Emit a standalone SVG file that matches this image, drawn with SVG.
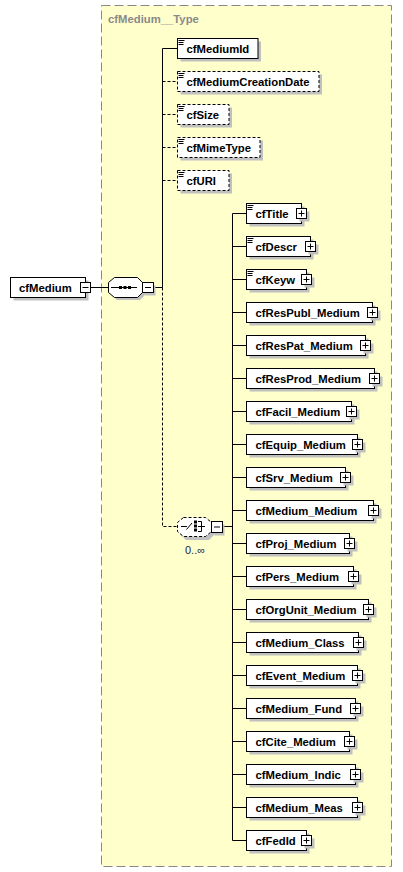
<svg xmlns="http://www.w3.org/2000/svg" width="403" height="872" viewBox="0 0 403 872">
<style>
.bg{fill:#fff}
.cont{fill:#FFFFCC;stroke:#888;stroke-width:1;stroke-dasharray:9,4}
.ttl{font-family:"Liberation Sans",Arial,sans-serif;font-weight:bold;font-size:11.3px;fill:#8a8a8a}
.sh{fill:#c0c0c0}
.box{fill:#fff;stroke:#000;stroke-width:1}
.opt{fill:#fff;stroke:#000;stroke-width:1;stroke-dasharray:3,2}
.lbl{font-family:"Liberation Sans",Arial,sans-serif;font-weight:bold;font-size:11.3px;fill:#000}
.occ{font-family:"Liberation Sans",Arial,sans-serif;font-size:11px;fill:#1a1a4a}
.doc{stroke:#000;stroke-width:1;fill:none}
.pm{fill:#fff;stroke:#000;stroke-width:1}
.pml{stroke:#000;stroke-width:1;fill:none}
.ln{stroke:#000;stroke-width:1;fill:none}
.dl{stroke:#000;stroke-width:1;fill:none;stroke-dasharray:3,2}
</style>
<rect class="bg" x="0" y="0" width="403" height="872"/>
<g id="cfMedium__Type">
<rect class="cont" x="101.5" y="5.5" width="290" height="861"/>
<text class="ttl" x="108" y="23">cfMedium__Type</text>
</g>
<g id="connectors">
<path class="ln" d="M91,287.5H108"/>
<path class="ln" d="M154,287.5H162.5"/>
<path class="ln" d="M162.5,48.5V287.5"/>
<path class="ln" d="M162.5,48.5H177"/>
<path class="dl" d="M162.5,81.5H177M162.5,114.5H177M162.5,147.5H177M162.5,180.5H177"/>
<path class="dl" d="M162.5,287.5V526.5H177"/>
<path class="ln" d="M223,526.5H232.5"/>
<path class="ln" d="M232.5,213.5V840.5"/>
<path class="ln" d="M232.5,213.5H246M232.5,246.5H246M232.5,279.5H246M232.5,312.5H246M232.5,345.5H246M232.5,378.5H246M232.5,411.5H246M232.5,444.5H246M232.5,477.5H246M232.5,510.5H246M232.5,543.5H246M232.5,576.5H246M232.5,609.5H246M232.5,642.5H246M232.5,675.5H246M232.5,708.5H246M232.5,741.5H246M232.5,774.5H246M232.5,807.5H246M232.5,840.5H246"/>
</g>
<g id="cfMedium">
<rect class="sh" x="13.5" y="280.5" width="75" height="20"/>
<rect class="box" x="10.5" y="277.5" width="75" height="20"/>
<text class="lbl" x="19" y="291.5">cfMedium</text>
<rect class="pm" x="80.5" y="282.5" width="10" height="10"/>
<path class="pml" d="M82.5,287.5H88.5"/>
</g>
<g id="sequence">
<polygon class="sh" points="117,280 140,280 146,286 146,294 140,300 117,300 111,294 111,286"/>
<polygon class="box" points="114.5,277.5 137.5,277.5 142.5,282.5 142.5,292.5 137.5,297.5 114.5,297.5 108.5,292.5 108.5,282.5"/>
<path class="ln" d="M111,287.5H137"/>
<rect x="119" y="286" width="3" height="3" fill="#000"/>
<rect x="123.5" y="286" width="3" height="3" fill="#000"/>
<rect x="128" y="286" width="3" height="3" fill="#000"/>
<rect class="sh" x="145.5" y="285.5" width="10" height="10"/>
<rect class="pm" x="142.5" y="282.5" width="11" height="10"/>
<path class="pml" d="M145,287.5H151"/>
</g>
<g id="choice">
<polygon class="sh" points="186,520 209,520 215,526 215,534 209,540 186,540 180,534 180,526"/>
<polygon class="opt" points="183.5,517.5 205.5,517.5 211.5,522.5 211.5,531.5 205.5,536.5 183.5,536.5 177.5,531.5 177.5,522.5"/>
<path class="ln" d="M181,526.5H187M186.5,529.5L192,523"/>
<rect x="194" y="520.5" width="3" height="3" fill="#000"/>
<rect x="194" y="524.5" width="3" height="3" fill="#000"/>
<rect x="194" y="528.5" width="3" height="3" fill="#000"/>
<path class="ln" d="M198,521.5H201.5V531.5H198M198,526.5H205"/>
<rect class="sh" x="214.5" y="524.5" width="10" height="11"/>
<rect class="pm" x="211.5" y="521.5" width="11" height="11"/>
<path class="pml" d="M214,527H220"/>
<text class="occ" x="185" y="554">0..∞</text>
</g>
<g id="cfMediumId">
<rect class="sh" x="180.5" y="41.5" width="80.5" height="20"/>
<rect class="box" x="177.5" y="38.5" width="80.5" height="20"/>
<path class="doc" d="M178.5,40.5H184.5M178.5,42.5H183.5M178.5,44.5H183.5"/>
<text class="lbl" x="186.5" y="52.5">cfMediumId</text>
</g>
<g id="cfMediumCreationDate">
<rect class="sh" x="180.5" y="74.5" width="141.5" height="20"/>
<rect class="opt" x="177.5" y="71.5" width="141.5" height="20"/>
<path class="doc" d="M178.5,73.5H184.5M178.5,75.5H183.5M178.5,77.5H183.5"/>
<text class="lbl" x="186.5" y="85.5">cfMediumCreationDate</text>
</g>
<g id="cfSize">
<rect class="sh" x="180.5" y="107.5" width="51.5" height="20"/>
<rect class="opt" x="177.5" y="104.5" width="51.5" height="20"/>
<path class="doc" d="M178.5,106.5H184.5M178.5,108.5H183.5M178.5,110.5H183.5"/>
<text class="lbl" x="186.5" y="118.5">cfSize</text>
</g>
<g id="cfMimeType">
<rect class="sh" x="180.5" y="140.5" width="82.5" height="20"/>
<rect class="opt" x="177.5" y="137.5" width="82.5" height="20"/>
<path class="doc" d="M178.5,139.5H184.5M178.5,141.5H183.5M178.5,143.5H183.5"/>
<text class="lbl" x="186.5" y="151.5">cfMimeType</text>
</g>
<g id="cfURI">
<rect class="sh" x="180.5" y="173.5" width="51.5" height="20"/>
<rect class="opt" x="177.5" y="170.5" width="51.5" height="20"/>
<path class="doc" d="M178.5,172.5H184.5M178.5,174.5H183.5M178.5,176.5H183.5"/>
<text class="lbl" x="186.5" y="184.5">cfURI</text>
</g>
<g id="cfTitle">
<rect class="sh" x="249.5" y="206.5" width="55" height="20"/>
<rect class="box" x="246.5" y="203.5" width="55" height="20"/>
<path class="doc" d="M247.5,205.5H253.5M247.5,207.5H252.5M247.5,209.5H252.5"/>
<text class="lbl" x="255.5" y="217.5">cfTitle</text>
<rect class="sh" x="299.5" y="211.5" width="10" height="10"/>
<rect class="pm" x="296.5" y="208.5" width="10" height="10"/>
<path class="pml" d="M298.5,213.5H304.5M301.5,210.5V216.5"/>
</g>
<g id="cfDescr">
<rect class="sh" x="249.5" y="239.5" width="64" height="20"/>
<rect class="box" x="246.5" y="236.5" width="64" height="20"/>
<path class="doc" d="M247.5,238.5H253.5M247.5,240.5H252.5M247.5,242.5H252.5"/>
<text class="lbl" x="255.5" y="250.5">cfDescr</text>
<rect class="sh" x="308.5" y="244.5" width="10" height="10"/>
<rect class="pm" x="305.5" y="241.5" width="10" height="10"/>
<path class="pml" d="M307.5,246.5H313.5M310.5,243.5V249.5"/>
</g>
<g id="cfKeyw">
<rect class="sh" x="249.5" y="272.5" width="60" height="20"/>
<rect class="box" x="246.5" y="269.5" width="60" height="20"/>
<path class="doc" d="M247.5,271.5H253.5M247.5,273.5H252.5M247.5,275.5H252.5"/>
<text class="lbl" x="255.5" y="283.5">cfKeyw</text>
<rect class="sh" x="304.5" y="277.5" width="10" height="10"/>
<rect class="pm" x="301.5" y="274.5" width="10" height="10"/>
<path class="pml" d="M303.5,279.5H309.5M306.5,276.5V282.5"/>
</g>
<g id="cfResPubl_Medium">
<rect class="sh" x="249.5" y="305.5" width="126" height="20"/>
<rect class="box" x="246.5" y="302.5" width="126" height="20"/>
<text class="lbl" x="255.5" y="316.5">cfResPubl_Medium</text>
<rect class="sh" x="370.5" y="310.5" width="10" height="10"/>
<rect class="pm" x="367.5" y="307.5" width="10" height="10"/>
<path class="pml" d="M369.5,312.5H375.5M372.5,309.5V315.5"/>
</g>
<g id="cfResPat_Medium">
<rect class="sh" x="249.5" y="338.5" width="119" height="20"/>
<rect class="box" x="246.5" y="335.5" width="119" height="20"/>
<text class="lbl" x="255.5" y="349.5">cfResPat_Medium</text>
<rect class="sh" x="363.5" y="343.5" width="10" height="10"/>
<rect class="pm" x="360.5" y="340.5" width="10" height="10"/>
<path class="pml" d="M362.5,345.5H368.5M365.5,342.5V348.5"/>
</g>
<g id="cfResProd_Medium">
<rect class="sh" x="249.5" y="371.5" width="128" height="20"/>
<rect class="box" x="246.5" y="368.5" width="128" height="20"/>
<text class="lbl" x="255.5" y="382.5">cfResProd_Medium</text>
<rect class="sh" x="372.5" y="376.5" width="10" height="10"/>
<rect class="pm" x="369.5" y="373.5" width="10" height="10"/>
<path class="pml" d="M371.5,378.5H377.5M374.5,375.5V381.5"/>
</g>
<g id="cfFacil_Medium">
<rect class="sh" x="249.5" y="404.5" width="105" height="20"/>
<rect class="box" x="246.5" y="401.5" width="105" height="20"/>
<text class="lbl" x="255.5" y="415.5">cfFacil_Medium</text>
<rect class="sh" x="349.5" y="409.5" width="10" height="10"/>
<rect class="pm" x="346.5" y="406.5" width="10" height="10"/>
<path class="pml" d="M348.5,411.5H354.5M351.5,408.5V414.5"/>
</g>
<g id="cfEquip_Medium">
<rect class="sh" x="249.5" y="437.5" width="111" height="20"/>
<rect class="box" x="246.5" y="434.5" width="111" height="20"/>
<text class="lbl" x="255.5" y="448.5">cfEquip_Medium</text>
<rect class="sh" x="355.5" y="442.5" width="10" height="10"/>
<rect class="pm" x="352.5" y="439.5" width="10" height="10"/>
<path class="pml" d="M354.5,444.5H360.5M357.5,441.5V447.5"/>
</g>
<g id="cfSrv_Medium">
<rect class="sh" x="249.5" y="470.5" width="99" height="20"/>
<rect class="box" x="246.5" y="467.5" width="99" height="20"/>
<text class="lbl" x="255.5" y="481.5">cfSrv_Medium</text>
<rect class="sh" x="343.5" y="475.5" width="10" height="10"/>
<rect class="pm" x="340.5" y="472.5" width="10" height="10"/>
<path class="pml" d="M342.5,477.5H348.5M345.5,474.5V480.5"/>
</g>
<g id="cfMedium_Medium">
<rect class="sh" x="249.5" y="503.5" width="127" height="20"/>
<rect class="box" x="246.5" y="500.5" width="127" height="20"/>
<text class="lbl" x="255.5" y="514.5">cfMedium_Medium</text>
<rect class="sh" x="371.5" y="508.5" width="10" height="10"/>
<rect class="pm" x="368.5" y="505.5" width="10" height="10"/>
<path class="pml" d="M370.5,510.5H376.5M373.5,507.5V513.5"/>
</g>
<g id="cfProj_Medium">
<rect class="sh" x="249.5" y="536.5" width="103" height="20"/>
<rect class="box" x="246.5" y="533.5" width="103" height="20"/>
<text class="lbl" x="255.5" y="547.5">cfProj_Medium</text>
<rect class="sh" x="347.5" y="541.5" width="10" height="10"/>
<rect class="pm" x="344.5" y="538.5" width="10" height="10"/>
<path class="pml" d="M346.5,543.5H352.5M349.5,540.5V546.5"/>
</g>
<g id="cfPers_Medium">
<rect class="sh" x="249.5" y="569.5" width="107" height="20"/>
<rect class="box" x="246.5" y="566.5" width="107" height="20"/>
<text class="lbl" x="255.5" y="580.5">cfPers_Medium</text>
<rect class="sh" x="351.5" y="574.5" width="10" height="10"/>
<rect class="pm" x="348.5" y="571.5" width="10" height="10"/>
<path class="pml" d="M350.5,576.5H356.5M353.5,573.5V579.5"/>
</g>
<g id="cfOrgUnit_Medium">
<rect class="sh" x="249.5" y="602.5" width="122" height="20"/>
<rect class="box" x="246.5" y="599.5" width="122" height="20"/>
<text class="lbl" x="255.5" y="613.5">cfOrgUnit_Medium</text>
<rect class="sh" x="366.5" y="607.5" width="10" height="10"/>
<rect class="pm" x="363.5" y="604.5" width="10" height="10"/>
<path class="pml" d="M365.5,609.5H371.5M368.5,606.5V612.5"/>
</g>
<g id="cfMedium_Class">
<rect class="sh" x="249.5" y="635.5" width="112" height="20"/>
<rect class="box" x="246.5" y="632.5" width="112" height="20"/>
<text class="lbl" x="255.5" y="646.5">cfMedium_Class</text>
<rect class="sh" x="356.5" y="640.5" width="10" height="10"/>
<rect class="pm" x="353.5" y="637.5" width="10" height="10"/>
<path class="pml" d="M355.5,642.5H361.5M358.5,639.5V645.5"/>
</g>
<g id="cfEvent_Medium">
<rect class="sh" x="249.5" y="668.5" width="111" height="20"/>
<rect class="box" x="246.5" y="665.5" width="111" height="20"/>
<text class="lbl" x="255.5" y="679.5">cfEvent_Medium</text>
<rect class="sh" x="355.5" y="673.5" width="10" height="10"/>
<rect class="pm" x="352.5" y="670.5" width="10" height="10"/>
<path class="pml" d="M354.5,675.5H360.5M357.5,672.5V678.5"/>
</g>
<g id="cfMedium_Fund">
<rect class="sh" x="249.5" y="701.5" width="109" height="20"/>
<rect class="box" x="246.5" y="698.5" width="109" height="20"/>
<text class="lbl" x="255.5" y="712.5">cfMedium_Fund</text>
<rect class="sh" x="353.5" y="706.5" width="10" height="10"/>
<rect class="pm" x="350.5" y="703.5" width="10" height="10"/>
<path class="pml" d="M352.5,708.5H358.5M355.5,705.5V711.5"/>
</g>
<g id="cfCite_Medium">
<rect class="sh" x="249.5" y="734.5" width="103" height="20"/>
<rect class="box" x="246.5" y="731.5" width="103" height="20"/>
<text class="lbl" x="255.5" y="745.5">cfCite_Medium</text>
<rect class="sh" x="347.5" y="739.5" width="10" height="10"/>
<rect class="pm" x="344.5" y="736.5" width="10" height="10"/>
<path class="pml" d="M346.5,741.5H352.5M349.5,738.5V744.5"/>
</g>
<g id="cfMedium_Indic">
<rect class="sh" x="249.5" y="767.5" width="109" height="20"/>
<rect class="box" x="246.5" y="764.5" width="109" height="20"/>
<text class="lbl" x="255.5" y="778.5">cfMedium_Indic</text>
<rect class="sh" x="353.5" y="772.5" width="10" height="10"/>
<rect class="pm" x="350.5" y="769.5" width="10" height="10"/>
<path class="pml" d="M352.5,774.5H358.5M355.5,771.5V777.5"/>
</g>
<g id="cfMedium_Meas">
<rect class="sh" x="249.5" y="800.5" width="111" height="20"/>
<rect class="box" x="246.5" y="797.5" width="111" height="20"/>
<text class="lbl" x="255.5" y="811.5">cfMedium_Meas</text>
<rect class="sh" x="355.5" y="805.5" width="10" height="10"/>
<rect class="pm" x="352.5" y="802.5" width="10" height="10"/>
<path class="pml" d="M354.5,807.5H360.5M357.5,804.5V810.5"/>
</g>
<g id="cfFedId">
<rect class="sh" x="249.5" y="833.5" width="60" height="20"/>
<rect class="box" x="246.5" y="830.5" width="60" height="20"/>
<text class="lbl" x="255.5" y="844.5">cfFedId</text>
<rect class="sh" x="304.5" y="838.5" width="10" height="10"/>
<rect class="pm" x="301.5" y="835.5" width="10" height="10"/>
<path class="pml" d="M303.5,840.5H309.5M306.5,837.5V843.5"/>
</g>
</svg>
